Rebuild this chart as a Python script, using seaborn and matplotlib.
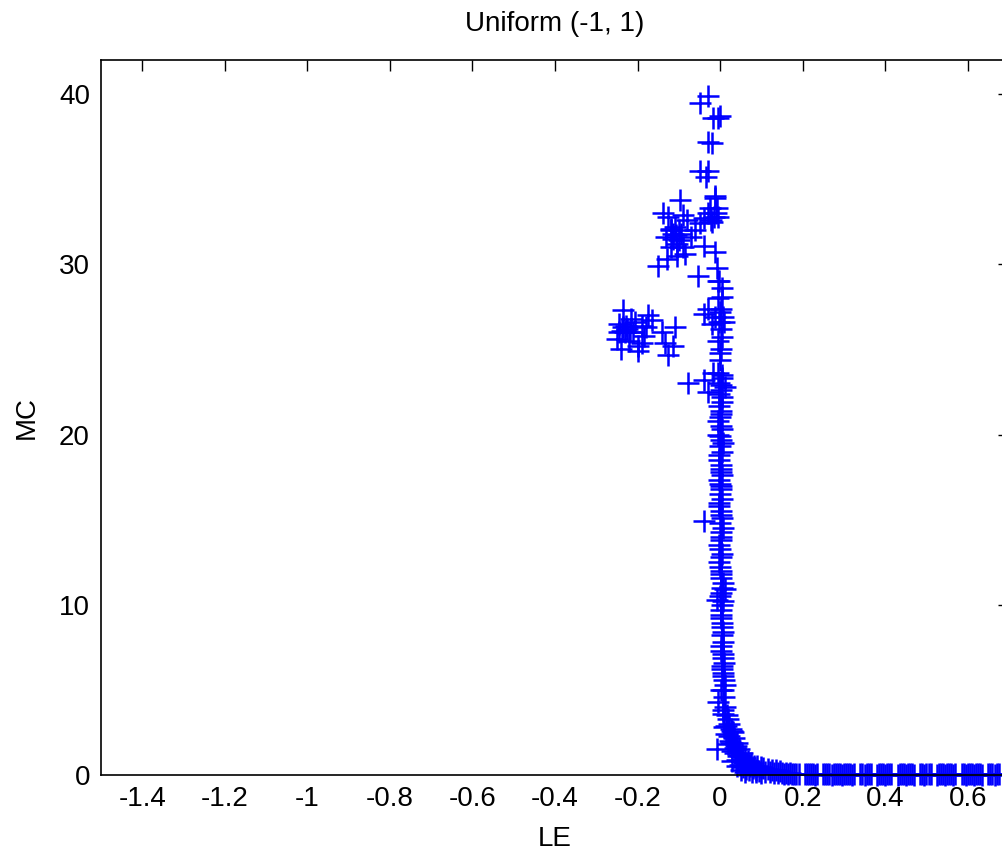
import numpy as np
import pandas as pd
import matplotlib
matplotlib.use("Agg")
import matplotlib.pyplot as plt
import seaborn as sns

# ---- data (LE vs MC) ----
left_le = [-0.245, -0.235, -0.25, -0.225, -0.215, -0.2, -0.19, -0.175, -0.185, -0.21,
           -0.24, -0.2, -0.165, -0.23, -0.22, -0.18, -0.235, -0.205, -0.245, -0.19,
           -0.133, -0.126, -0.109, -0.14, -0.115, -0.228, -0.238, -0.218]
left_mc = [26.5, 27.3, 25.6, 26.2, 26.8, 25.2, 26.4, 27.0, 25.8, 26.0,
           25.0, 24.9, 26.7, 26.0, 25.5, 26.3, 26.3, 26.6, 26.0, 25.4,
           25.4, 24.7, 26.3, 26.0, 25.2, 26.4, 26.1, 26.0]

mid_le = [-0.138, -0.125, -0.097, -0.115, -0.12, -0.10, -0.09, -0.13, -0.105, -0.15,
          -0.08, -0.07, -0.11, -0.095, -0.085, -0.12, -0.105, -0.114, -0.09, -0.06,
          -0.048, -0.04, -0.03, -0.02, -0.053, -0.012, -0.008, -0.005, -0.10, -0.128,
          -0.012, -0.04, -0.025, -0.108, -0.118, -0.015, -0.022]
mid_mc = [33.0, 32.8, 33.8, 31.5, 31.0, 32.0, 31.0, 31.6, 30.5, 29.9,
          32.6, 31.6, 32.2, 31.8, 30.6, 32.0, 31.2, 31.8, 32.9, 32.0,
          32.4, 32.7, 33.0, 32.5, 29.3, 30.7, 29.8, 29.0, 31.4, 30.3,
          34.0, 31.1, 33.3, 31.7, 32.1, 32.8, 32.6]

upper_le = [-0.048, -0.029, -0.017, -0.005, 0.0, -0.03, -0.019, -0.048, -0.029, -0.035,
            -0.012, -0.008, -0.005, -0.01]
upper_mc = [39.5, 39.9, 38.6, 38.6, 38.7, 37.2, 37.1, 35.5, 35.5, 35.1,
            33.9, 33.3, 32.8, 33.0]

column_le = [-0.003, 0.004, -0.006, 0.002, 0.006, -0.002, 0.001, -0.004, 0.003, 0.0,
             -0.005, 0.004, -0.002, 0.002, 0.005, -0.003, 0.001, -0.001, 0.003, -0.004,
             0.002, 0.0, 0.004, -0.002, 0.001, 0.003, -0.003, 0.002, 0.0, -0.002,
             0.001, 0.004, -0.001, 0.002, 0.003, 0.0, 0.001, -0.002, 0.003, 0.002,
             0.004, -0.001, 0.006, 0.002, 0.003, 0.005, 0.004, 0.006, 0.003, 0.007,
             0.005, 0.008, 0.010,
             -0.04, 0.012, -0.007, -0.078, -0.04, -0.03, -0.012, 0.0, 0.01, -0.02,
             -0.04, -0.017, 0.005, 0.012, -0.03, 0.005, 0.005, 0.0,
             0.003, -0.002, 0.005, 0.001, -0.004, 0.004, 0.0, 0.006, -0.003, 0.002,
             0.004, -0.001, 0.003, 0.005, -0.002, 0.001, 0.006, 0.002, -0.003, 0.004,
             0.0, 0.003, 0.007, 0.002, 0.005, 0.001, 0.004, 0.008, 0.003, 0.006,
             0.009, 0.004, 0.007, 0.011, 0.006]
column_mc = [29.0, 28.6, 28.0, 27.4, 26.9, 26.6, 26.2, 25.5, 25.0, 24.4,
             23.6, 23.3, 23.0, 22.6, 22.2, 21.7, 21.4, 21.0, 20.5, 20.0,
             19.7, 19.3, 19.0, 18.5, 18.2, 17.8, 17.3, 17.0, 16.5, 16.0,
             15.5, 15.1, 14.8, 14.3, 13.8, 13.3, 12.8, 12.5, 12.0, 11.6,
             11.0, 10.5, 10.2, 9.7, 9.2, 8.7, 8.2, 7.8, 7.3, 6.9,
             6.4, 6.0, 5.6,
             14.9, 10.9, 10.3, 23.0, 27.1, 27.4, 26.9, 27.2, 26.6, 26.5,
             23.2, 23.6, 23.5, 22.8, 22.5, 28.1, 25.7, 24.8,
             22.9, 22.4, 21.9, 21.2, 20.8, 20.3, 19.9, 19.5, 18.8, 18.0,
             17.6, 17.1, 16.8, 16.2, 15.8, 15.3, 14.5, 14.0, 13.5, 13.0,
             12.2, 11.8, 11.3, 10.7, 10.0, 9.4, 8.9, 8.4, 7.6, 7.1,
             6.6, 6.2, 5.8, 5.3, 5.0]

tail_le = [0.003, 0.010, -0.004, 0.012, 0.006, 0.018, 0.022, 0.010, 0.028, 0.015,
           0.033, 0.024, 0.040, 0.020, 0.036, 0.047, 0.030, 0.052, 0.043, 0.060,
           0.056, 0.068, 0.075, 0.064, 0.082, 0.090, 0.098, 0.105, 0.115, 0.125,
           0.135, 0.145, 0.04, 0.05, 0.03, 0.06, -0.007,
           0.008, 0.016, 0.014, 0.026, 0.021, 0.032, 0.038, 0.027, 0.045, 0.035,
           0.050, 0.041, 0.058, 0.048, 0.066, 0.055, 0.072, 0.063, 0.080, 0.070,
           0.088, 0.078, 0.095, 0.086, 0.110, 0.100, 0.120, 0.130, 0.140]
tail_mc = [5.0, 4.6, 4.3, 4.0, 3.6, 3.3, 3.0, 2.8, 2.6, 2.4,
           2.2, 2.0, 1.9, 1.8, 1.6, 1.5, 1.4, 1.3, 1.1, 1.0,
           0.9, 0.8, 0.7, 0.6, 0.55, 0.5, 0.45, 0.4, 0.35, 0.3,
           0.28, 0.25, 0.5, 0.3, 0.8, 0.2, 1.5,
           3.8, 3.5, 2.9, 2.7, 2.3, 2.5, 1.7, 1.9, 1.2, 1.3,
           1.1, 0.9, 0.7, 0.6, 0.65, 0.45, 0.5, 0.35, 0.4, 0.3,
           0.3, 0.2, 0.25, 0.15, 0.2, 0.1, 0.15, 0.1, 0.12]

# points that sit on the floor (MC ~ 0); closely packed so the markers merge
floor_le = [0.150, 0.155, 0.160, 0.165, 0.170, 0.175, 0.180, 0.185, 0.190,
            0.205, 0.210, 0.215, 0.220, 0.225, 0.230, 0.235,
            0.250, 0.255, 0.260, 0.265, 0.270, 0.275, 0.280, 0.285, 0.290, 0.295,
            0.300, 0.305, 0.310, 0.315, 0.320, 0.325,
            0.340, 0.345, 0.350, 0.355, 0.360, 0.365,
            0.380, 0.385, 0.390, 0.395, 0.400, 0.405, 0.410, 0.415,
            0.430, 0.435, 0.440, 0.445, 0.450, 0.455, 0.460, 0.465, 0.470,
            0.485, 0.490, 0.495, 0.500, 0.505, 0.510,
            0.525, 0.530, 0.535, 0.540, 0.545, 0.550, 0.555, 0.560, 0.565, 0.570,
            0.585, 0.590, 0.595, 0.600, 0.605, 0.610, 0.615, 0.620, 0.625, 0.630, 0.635,
            0.650, 0.655, 0.660, 0.665, 0.670, 0.675]
floor_mc = [0.12, 0.08, 0.10, 0.06, 0.09, 0.05, 0.08, 0.04, 0.07,
            0.06, 0.03, 0.07, 0.04, 0.06, 0.02, 0.05,
            0.04, 0.06, 0.03, 0.05, 0.02, 0.06, 0.04, 0.03, 0.05, 0.02,
            0.04, 0.06, 0.03, 0.05, 0.02, 0.04,
            0.03, 0.05, 0.02, 0.04, 0.06, 0.03,
            0.02, 0.05, 0.03, 0.04, 0.02, 0.05, 0.03, 0.04,
            0.02, 0.04, 0.03, 0.05, 0.02, 0.04, 0.03, 0.05, 0.02,
            0.03, 0.05, 0.02, 0.04, 0.03, 0.05,
            0.02, 0.04, 0.03, 0.05, 0.02, 0.04, 0.03, 0.05, 0.02, 0.04,
            0.03, 0.05, 0.02, 0.04, 0.03, 0.05, 0.02, 0.04, 0.03, 0.05, 0.02,
            0.04, 0.03, 0.05, 0.02, 0.04, 0.03]

x_ticks = [-1.4, -1.2, -1, -0.8, -0.6, -0.4, -0.2, 0, 0.2, 0.4, 0.6]
x_tick_labels = ["-1.4", "-1.2", "-1", "-0.8", "-0.6", "-0.4", "-0.2", "0", "0.2", "0.4", "0.6"]
y_ticks = [0, 10, 20, 30, 40]

df = pd.DataFrame({
    "LE": left_le + mid_le + upper_le + column_le + tail_le + floor_le,
    "MC": left_mc + mid_mc + upper_mc + column_mc + tail_mc + floor_mc,
})

sns.set_style("white")
plt.rcParams.update({
    "font.family": ["Liberation Sans", "DejaVu Sans"],
    "xtick.direction": "in",
    "ytick.direction": "in",
    "text.color": "black",
    "axes.labelcolor": "black",
})

fig = plt.figure(figsize=(10.03, 8.55), dpi=100)
ax = fig.add_axes([101 / 1003, 80 / 855, 908 / 1003, 715 / 855])

sns.scatterplot(data=df, x="LE", y="MC", marker="+", color="#0000ff",
                s=240, linewidth=1.8, ax=ax, clip_on=False, legend=False)

ax.set_xlim(-1.5, 0.7)
ax.set_ylim(0, 42)
ax.set_xticks(x_ticks)
ax.set_xticklabels(x_tick_labels)
ax.set_yticks(y_ticks)
ax.tick_params(axis="both", which="both", top=True, right=True, length=8, width=1,
               labelsize=20, colors="black", pad=8)
for sp in ax.spines.values():
    sp.set_color("black")
    sp.set_linewidth(1.2)

ax.set_xlabel("LE", fontsize=20, labelpad=10)
ax.set_ylabel("MC", fontsize=20, labelpad=14)
ax.set_title("Uniform (-1, 1)", fontsize=20, pad=21)

fig.savefig("out.png", dpi=100)
plt.close(fig)
